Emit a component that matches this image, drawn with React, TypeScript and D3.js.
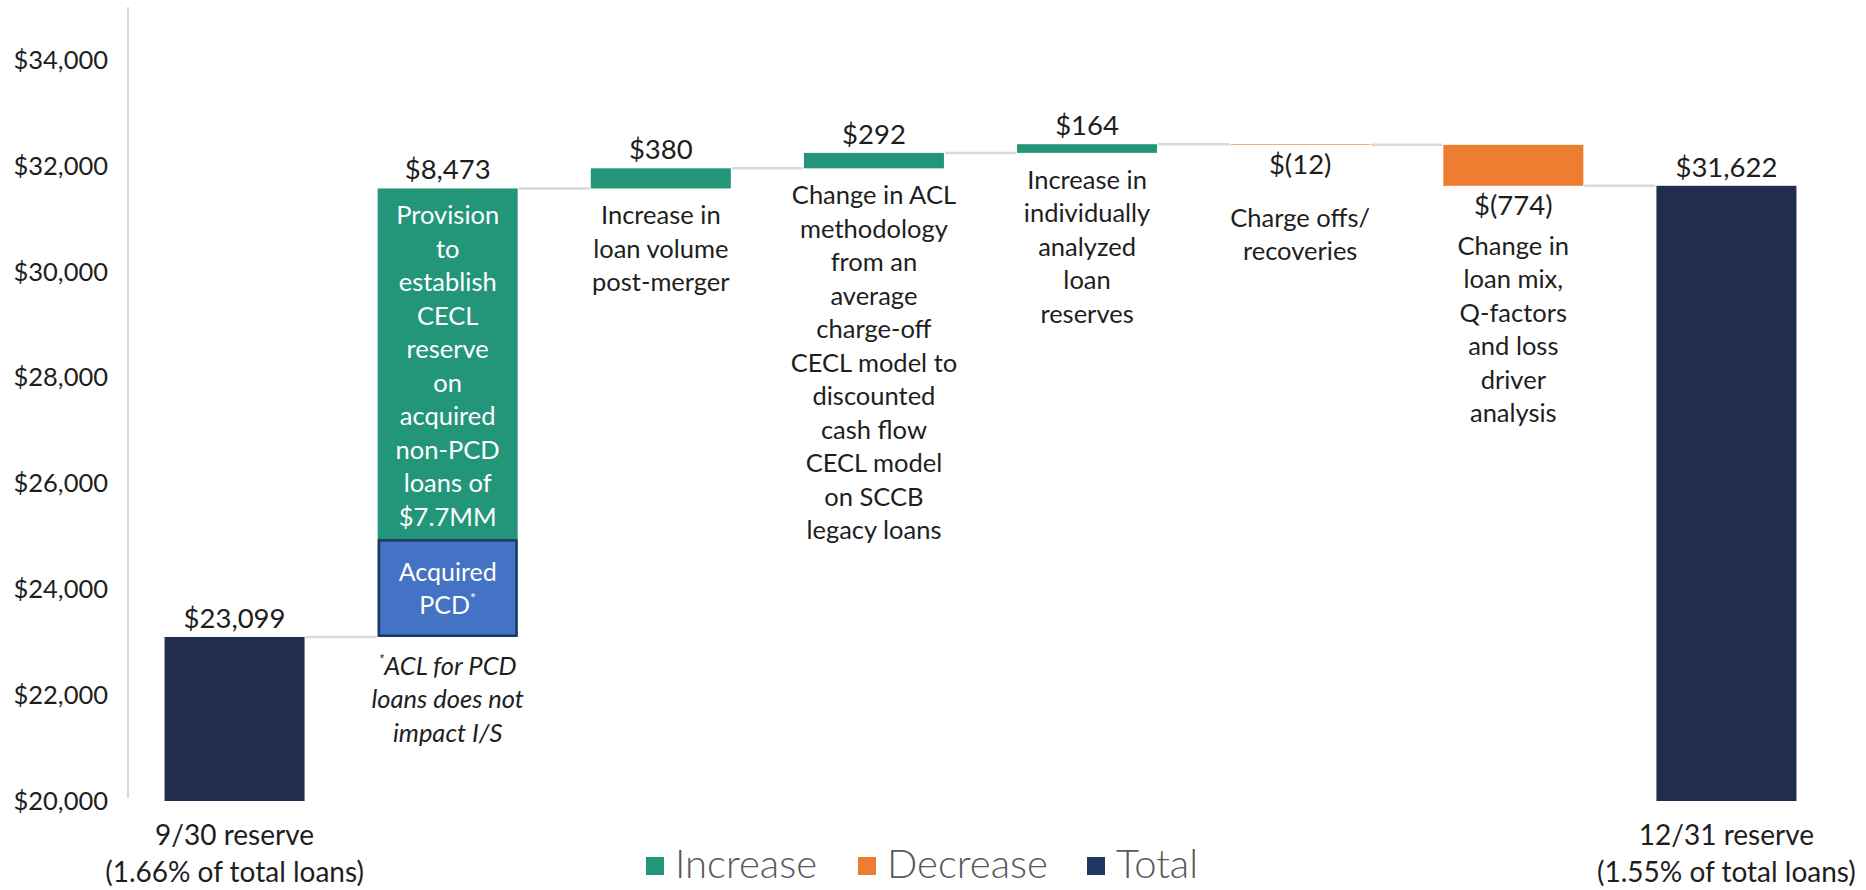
import React from 'react';
import * as d3 from 'd3';

// ---------- DATA ----------
const categories = ['9/30 reserve', 'Provision', 'Loan volume', 'ACL methodology', 'Individually analyzed', 'Charge offs', 'Loan mix', '12/31 reserve'];
const kinds = ['total', 'increase', 'increase', 'increase', 'increase', 'decrease', 'decrease', 'total'];
const values = [23099, 8473, 380, 292, 164, -12, -774, 31622];
const valueLabels = ['$23,099', '$8,473', '$380', '$292', '$164', '$(12)', '$(774)', '$31,622'];
const pcdPortion = 1849; // acquired PCD part of the provision bar
const descriptions: string[][] = [
  [],
  ['Provision', 'to', 'establish', 'CECL', 'reserve', 'on', 'acquired', 'non-PCD', 'loans of', '$7.7MM'],
  ['Increase in', 'loan volume', 'post-merger'],
  ['Change in ACL', 'methodology', 'from an', 'average', 'charge-off', 'CECL model to', 'discounted', 'cash flow', 'CECL model', 'on SCCB', 'legacy loans'],
  ['Increase in', 'individually', 'analyzed', 'loan', 'reserves'],
  ['Charge offs/', 'recoveries'],
  ['Change in', 'loan mix,', 'Q-factors', 'and loss', 'driver', 'analysis'],
  [],
];
const bottomLabels: string[][] = [
  ['9/30 reserve', '(1.66% of total loans)'],
  [], [], [], [], [], [],
  ['12/31 reserve', '(1.55% of total loans)'],
];
const pcdLabel = ['Acquired', 'PCD'];
const footnote = ['ACL for PCD', 'loans does not', 'impact I/S'];
const yTicks = [20000, 22000, 24000, 26000, 28000, 30000, 32000, 34000];
const legendItems = ['Increase', 'Decrease', 'Total'];

// ---------- STYLE ----------
const W = 1866;
const H = 890;
const FONT = 'Lato, Carlito, "Open Sans", sans-serif';
const colors: Record<string, string> = {
  increase: '#23967A',
  decrease: '#ED7D31',
  total: '#212D4E',
};
const legendColors = ['#23967A', '#ED7D31', '#1F3864'];
const pcdFill = '#4472C4';
const pcdStroke = '#1F3864';
const textColor = '#1e1e1e';
const connColor = '#D9D9D9';
const FS = 25.5;
const VFS = 27.5;
const LH = 33.5;
// extra gap (px) under the value label for decrease descriptions
const descExtra = [0, 0, 0, 0, 0, 53, 40, 0];
const legendX = [646, 858, 1087];

export default function App() {
  const x = d3
    .scaleBand<number>()
    .domain(categories.map((_, i) => i))
    .range([128, 1833])
    .paddingInner(0.343)
    .paddingOuter(0.1715);
  const y = d3.scaleLinear().domain([20000, 35000]).range([801, 7]);
  const bw = x.bandwidth();

  let running = 0;
  const bars = values.map((v, i) => {
    let lo: number, hi: number;
    if (kinds[i] === 'total') {
      lo = y.domain()[0];
      hi = v;
      running = v;
    } else {
      const start = running;
      running = running + v;
      lo = Math.min(start, running);
      hi = Math.max(start, running);
    }
    return { i, lo, hi, end: running, x0: x(i)!, cx: x(i)! + bw / 2 };
  });

  const fmt = d3.format('$,');

  return (
    <svg
      width={W}
      height={H}
      style={{ position: 'absolute', left: 0, top: 0, background: '#fff' }}
      fontFamily={FONT}
    >
      <line x1={128} x2={128} y1={y(35000)} y2={y(20000) - 3} stroke={connColor} strokeWidth={2} />
      {yTicks.map((t) => (
        <text key={t} x={108} y={y(t)} dy="0.35em" textAnchor="end" fontSize={FS} fill={textColor}>
          {fmt(t)}
        </text>
      ))}

      {bars.slice(0, -1).map((b, i) => (
        <line
          key={'c' + i}
          x1={b.x0 + bw + 1}
          x2={bars[i + 1].x0 - 1}
          y1={y(b.end)}
          y2={y(b.end)}
          stroke={connColor}
          strokeWidth={2.5}
        />
      ))}

      {bars.map((b) => (
        <rect
          key={'b' + b.i}
          x={b.x0}
          y={y(b.hi)}
          width={bw}
          height={y(b.lo) - y(b.hi)}
          fill={colors[kinds[b.i]]}
        />
      ))}

      {(() => {
        const b = bars[1];
        const top = y(b.lo + pcdPortion);
        const bot = y(b.lo);
        const mid = (top + bot) / 2;
        return (
          <g>
            <rect
              x={b.x0 + 1.25}
              y={top + 1.25}
              width={bw - 2.5}
              height={bot - top - 2.5}
              fill={pcdFill}
              stroke={pcdStroke}
              strokeWidth={2.5}
            />
            <text x={b.cx} y={mid - 7} textAnchor="middle" fontSize={FS - 0.5} fill="#fff">
              {pcdLabel[0]}
            </text>
            <text x={b.cx} y={mid + 26} textAnchor="middle" fontSize={FS - 0.5} fill="#fff">
              {pcdLabel[1]}
              <tspan fontSize={14} dy={-11}>*</tspan>
            </text>
            {footnote.map((l, k) => (
              <text
                key={'f' + k}
                x={b.cx}
                y={bot + 38 + k * LH}
                textAnchor="middle"
                fontSize={FS}
                fontStyle="italic"
                fill={textColor}
              >
                {k === 0 ? (
                  <>
                    <tspan fontSize={14} dy={-11}>*</tspan>
                    <tspan dy={11}>{l}</tspan>
                  </>
                ) : (
                  l
                )}
              </text>
            ))}
          </g>
        );
      })()}

      {bars.map((b) => {
        const neg = kinds[b.i] === 'decrease';
        const yy = neg ? y(b.lo) + 29 : y(b.hi) - 9;
        return (
          <text key={'v' + b.i} x={b.cx} y={yy} textAnchor="middle" fontSize={VFS} fill={textColor}>
            {valueLabels[b.i]}
          </text>
        );
      })}

      {bars.map((b) => {
        const lines = descriptions[b.i];
        if (!lines.length) return null;
        const inside = b.i === 1;
        const neg = kinds[b.i] === 'decrease';
        let start: number;
        if (inside) start = y(b.hi) + 36;
        else if (neg) start = y(b.lo) + 29 + descExtra[b.i];
        else start = y(b.lo) + 36;
        return (
          <g key={'d' + b.i}>
            {lines.map((l, k) => (
              <text
                key={k}
                x={b.cx}
                y={start + k * LH}
                textAnchor="middle"
                fontSize={FS}
                fill={inside ? '#fff' : textColor}
              >
                {l}
              </text>
            ))}
          </g>
        );
      })}

      {bars.map((b) =>
        bottomLabels[b.i].map((l, k) => (
          <text
            key={'bl' + b.i + k}
            x={b.cx}
            y={y(20000) + 44 + k * 37}
            textAnchor="middle"
            fontSize={28}
            fill={textColor}
          >
            {l}
          </text>
        ))
      )}

      {legendItems.map((name, k) => (
        <g key={'lg' + k}>
          <rect x={legendX[k]} y={857} width={18} height={18} fill={legendColors[k]} />
          <text x={legendX[k] + 29} y={878} fontSize={40} fontWeight={300} fill="#595959">
            {name}
          </text>
        </g>
      ))}
    </svg>
  );
}
